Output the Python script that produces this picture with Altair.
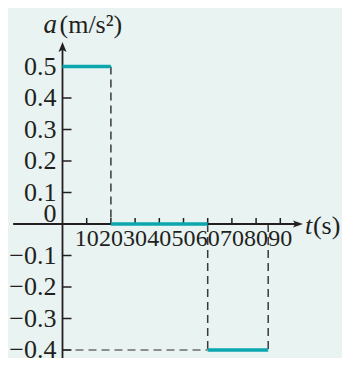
import altair as alt
import pandas as pd

# ---- data ----
seg_t0 = [0, 20, 60]
seg_t1 = [20, 60, 85]
seg_a = [0.5, 0.0, -0.4]

x_ticks = [10, 20, 30, 40, 50, 60, 70, 80, 90]
y_ticks = [-0.4, -0.3, -0.2, -0.1, 0.1, 0.2, 0.3, 0.4, 0.5]
y_tick_labels = ["−0.4", "−0.3", "−0.2", "−0.1", "0.1", "0.2", "0.3", "0.4", "0.5"]

# dashed guide lines
dash_v_t = [20, 60, 85]
dash_v_a0 = [0.5, 0.0, 0.0]
dash_v_a1 = [0.0, -0.4, -0.4]
dash_h_t0 = [0]
dash_h_t1 = [60]
dash_h_a = [-0.4]

# axis extents (data units)
x_axis_from, x_axis_to = -20.4, 97.3
y_axis_from, y_axis_to = -0.45, 0.562

BG = "#E8F3F2"
INK = "#231F20"
TEAL = "#0CA6AF"
FONT = "Liberation Serif"

W, H = 334, 350
PX_X, PX_Y = 2.42, 315.0
y_top = (224 - 8) / PX_Y
xs = alt.Scale(domain=[-22.52, -22.52 + W / PX_X], nice=False, zero=False)
ys = alt.Scale(domain=[y_top - H / PX_Y, y_top], nice=False, zero=False)

def X(f="x"):
    return alt.X(f"{f}:Q", scale=xs, axis=None)

def Y(f="y"):
    return alt.Y(f"{f}:Q", scale=ys, axis=None)

segs = pd.DataFrame({"x": seg_t0, "x2": seg_t1, "y": seg_a})
dv = pd.DataFrame({"x": dash_v_t, "y": dash_v_a0, "y2": dash_v_a1})
dh = pd.DataFrame({"x": dash_h_t0, "x2": dash_h_t1, "y": dash_h_a})

dash_vert = alt.Chart(dv).mark_rule(color="#3A3A3A", strokeWidth=1.5, strokeDash=[8, 5]).encode(
    x=X(), y=Y(), y2="y2:Q")
dash_hor = alt.Chart(dh).mark_rule(color="#6E6E6E", strokeWidth=1.5, strokeDash=[8, 5]).encode(
    x=X(), x2="x2:Q", y=Y())

xaxis = alt.Chart(pd.DataFrame({"x": [x_axis_from], "x2": [x_axis_to], "y": [0]})).mark_rule(
    color=INK, strokeWidth=1.8).encode(x=X(), x2="x2:Q", y=Y())
yaxis = alt.Chart(pd.DataFrame({"x": [0], "y": [y_axis_from], "y2": [y_axis_to]})).mark_rule(
    color=INK, strokeWidth=1.8).encode(x=X(), y=Y(), y2="y2:Q")

arrow_r = alt.Chart(pd.DataFrame({"x": [x_axis_to], "y": [0]})).mark_point(
    shape="M1,0 L-1,-0.72 L-0.55,0 L-1,0.72 Z", size=100, filled=True, color=INK, opacity=1
).encode(x=X(), y=Y())
arrow_u = alt.Chart(pd.DataFrame({"x": [0], "y": [y_axis_to]})).mark_point(
    shape="M0,-1 L0.8,1 L0,0.55 L-0.8,1 Z", size=100, filled=True, color=INK, opacity=1
).encode(x=X(), y=Y())

xt = alt.Chart(pd.DataFrame({"x": x_ticks, "y": [0] * len(x_ticks)})).mark_tick(
    orient="vertical", size=6, thickness=1.5, yOffset=-3, color=INK, opacity=1).encode(x=X(), y=Y())
yt = alt.Chart(pd.DataFrame({"x": [0] * len(y_ticks), "y": y_ticks})).mark_tick(
    orient="horizontal", size=9, thickness=1.5, xOffset=4.5, color=INK, opacity=1).encode(x=X(), y=Y())

xl = alt.Chart(pd.DataFrame({"x": x_ticks, "y": [0] * len(x_ticks), "t": [str(v) for v in x_ticks]})).mark_text(
    font=FONT, fontSize=24, color=INK, align="center", baseline="middle", dy=15).encode(
    x=X(), y=Y(), text="t:N")
yl = alt.Chart(pd.DataFrame({"x": [0] * len(y_ticks), "y": y_ticks, "t": y_tick_labels})).mark_text(
    font=FONT, fontSize=26, color=INK, align="right", baseline="middle", dx=-6).encode(
    x=X(), y=Y(), text="t:N")
zl = alt.Chart(pd.DataFrame({"x": [0], "y": [0], "t": ["0"]})).mark_text(
    font=FONT, fontSize=26, color=INK, align="right", baseline="middle", dx=-6, dy=-10.5).encode(
    x=X(), y=Y(), text="t:N")

title_a = alt.Chart(pd.DataFrame({"x": [0], "y": [y_axis_to], "t": ["a"]})).mark_text(
    font=FONT, fontSize=27, fontStyle="italic", color=INK, align="left", baseline="alphabetic",
    dx=-19, dy=-14).encode(x=X(), y=Y(), text="t:N")
title_u = alt.Chart(pd.DataFrame({"x": [0], "y": [y_axis_to], "t": ["(m/s²)"]})).mark_text(
    font=FONT, fontSize=26, color=INK, align="left", baseline="alphabetic",
    dx=-3, dy=-14).encode(x=X(), y=Y(), text="t:N")
title_t = alt.Chart(pd.DataFrame({"x": [x_axis_to], "y": [0], "t": ["t"]})).mark_text(
    font=FONT, fontSize=26, fontStyle="italic", color=INK, align="left", baseline="middle",
    dx=7, dy=2).encode(x=X(), y=Y(), text="t:N")
title_s = alt.Chart(pd.DataFrame({"x": [x_axis_to], "y": [0], "t": ["(s)"]})).mark_text(
    font=FONT, fontSize=26, color=INK, align="left", baseline="middle",
    dx=15, dy=2).encode(x=X(), y=Y(), text="t:N")

lines = alt.Chart(segs).mark_rule(color=TEAL, strokeWidth=3.4).encode(x=X(), x2="x2:Q", y=Y())

chart = alt.layer(
    dash_vert, dash_hor, xaxis, yaxis, xt, yt, lines, arrow_r, arrow_u,
    xl, yl, zl, title_a, title_u, title_t, title_s
).properties(
    width=W, height=H,
    autosize=alt.AutoSizeParams(type="none"),
    padding=0,
    background=BG,
).configure_view(stroke=None)

chart.save("out.html", embed_options={"renderer": "svg", "actions": False})
